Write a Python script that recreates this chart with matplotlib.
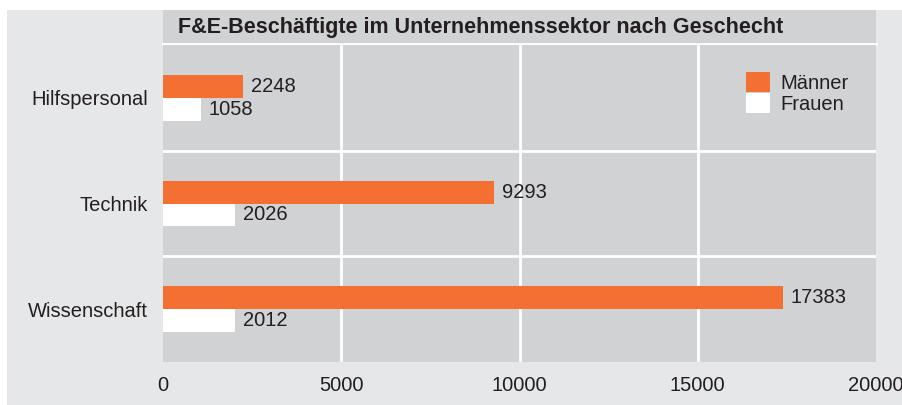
import numpy as np
import matplotlib.pyplot as plt
from matplotlib.patches import Rectangle

categories = ["Hilfspersonal", "Technik", "Wissenschaft"]
maenner = [2248, 9293, 17383]
frauen = [1058, 2026, 2012]
xticks = [0, 5000, 10000, 15000, 20000]
title = "F&E-Beschäftigte im Unternehmenssektor nach Geschecht"

orange = "#f37032"
plot_bg = "#d1d2d4"
outer_bg = "#e6e7e8"
txt = "#231f20"

plt.rcParams['font.family'] = ['Liberation Sans', 'DejaVu Sans']
fs = 14.5

W, H = 903, 405
fig = plt.figure(figsize=(W / 100, H / 100), dpi=100)
fig.patch.set_facecolor("white")
fig.patches.append(Rectangle((7 / W, 0), 1 - 7 / W, 1 - 10 / H, transform=fig.transFigure,
                             facecolor=outer_bg, edgecolor="none", zorder=-10))

x0, x1 = 163 / W, 876 / W
# title band
tax = fig.add_axes([x0, 1 - 44 / H, x1 - x0, 34 / H])
tax.set_facecolor(plot_bg)
tax.set_xticks([])
tax.set_yticks([])
for s in tax.spines.values():
    s.set_visible(False)
tax.spines["bottom"].set_visible(True)
tax.spines["bottom"].set_color("white")
tax.spines["bottom"].set_linewidth(2)
tax.text(15 / (x1 - x0) / W, 0.5, title, transform=tax.transAxes, fontsize=15.5,
         fontweight="bold", color=txt, va="center", ha="left")

ax = fig.add_axes([x0, 1 - 362 / H, x1 - x0, (362 - 45) / H])
ax.set_facecolor(plot_bg)
y = np.arange(len(categories))
h = 0.217
ax.barh(y - h / 2, maenner, height=h, color=orange, label="Männer", zorder=3)
ax.barh(y + h / 2, frauen, height=h, color="white", label="Frauen", zorder=3)
for yi, m, f in zip(y, maenner, frauen):
    ax.text(m + 220, yi - h / 2, str(m), va="center", ha="left", fontsize=fs, color=txt)
    ax.text(f + 220, yi + h / 2, str(f), va="center", ha="left", fontsize=fs, color=txt)

ax.set_xlim(0, 20000)
ax.set_ylim(len(categories) - 0.5, -0.5)
ax.set_xticks(xticks)
ax.set_xticklabels([str(v) for v in xticks])
ax.set_yticks(y)
ax.set_yticklabels(categories)
ax.tick_params(length=0, labelsize=fs, labelcolor=txt)
ax.tick_params(axis="y", pad=11)
ax.tick_params(axis="x", pad=10)
for s in ax.spines.values():
    s.set_visible(False)
for xv in xticks[1:-1]:
    ax.axvline(xv, color="white", lw=2, zorder=1)
for yv in [0.5, 1.5]:
    ax.axhline(yv, color="white", lw=2, zorder=1)

leg = ax.legend(loc="upper right", bbox_to_anchor=(0.962, 0.914), frameon=False, fontsize=fs,
                handlelength=1.15, handleheight=1.15, handletextpad=0.55, labelspacing=0.0,
                borderaxespad=0, borderpad=0)
for t in leg.get_texts():
    t.set_color(txt)

fig.savefig("out.png", dpi=100)
